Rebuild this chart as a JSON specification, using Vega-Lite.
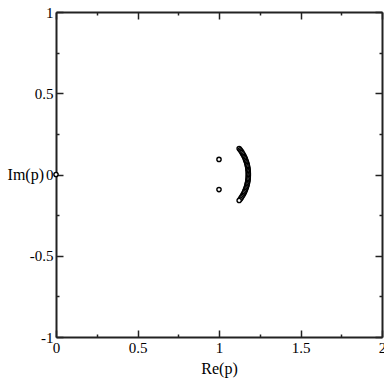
{
  "$schema": "https://vega.github.io/schema/vega-lite/v6.json",
  "width": 326,
  "height": 325,
  "autosize": {"type": "none"},
  "padding": {"left": 56, "top": 12, "right": 2, "bottom": 41},
  "background": "white",
  "config": {
    "view": {"stroke": null},
    "axis": {
      "grid": false,
      "labelFont": "Liberation Serif",
      "labelFontSize": 15,
      "labelColor": "black",
      "titleFont": "Liberation Serif",
      "titleFontSize": 16,
      "titleFontWeight": "normal",
      "titleColor": "black",
      "domainColor": "#222",
      "domainWidth": 2,
      "tickColor": "#222",
      "tickWidth": 1.5,
      "labelFlush": false,
      "labelOverlap": false
    }
  },
  "data": {
    "values": [
      {"re": 0, "im": 0},
      {"re": 1.0, "im": 0.093},
      {"re": 1.0, "im": -0.093},
      {"re": 1.1237, "im": 0.16},
      {"re": 1.1299, "im": 0.152},
      {"re": 1.1356, "im": 0.144},
      {"re": 1.1408, "im": 0.136},
      {"re": 1.1456, "im": 0.128},
      {"re": 1.1501, "im": 0.12},
      {"re": 1.1541, "im": 0.112},
      {"re": 1.1579, "im": 0.104},
      {"re": 1.1613, "im": 0.096},
      {"re": 1.1644, "im": 0.088},
      {"re": 1.1672, "im": 0.08},
      {"re": 1.1697, "im": 0.072},
      {"re": 1.1719, "im": 0.064},
      {"re": 1.1738, "im": 0.056},
      {"re": 1.1755, "im": 0.048},
      {"re": 1.1769, "im": 0.04},
      {"re": 1.178, "im": 0.032},
      {"re": 1.1789, "im": 0.024},
      {"re": 1.1795, "im": 0.016},
      {"re": 1.1799, "im": 0.008},
      {"re": 1.18, "im": 0.0},
      {"re": 1.1799, "im": -0.008},
      {"re": 1.1795, "im": -0.016},
      {"re": 1.1789, "im": -0.024},
      {"re": 1.178, "im": -0.032},
      {"re": 1.1769, "im": -0.04},
      {"re": 1.1755, "im": -0.048},
      {"re": 1.1738, "im": -0.056},
      {"re": 1.1719, "im": -0.064},
      {"re": 1.1697, "im": -0.072},
      {"re": 1.1672, "im": -0.08},
      {"re": 1.1644, "im": -0.088},
      {"re": 1.1613, "im": -0.096},
      {"re": 1.1579, "im": -0.104},
      {"re": 1.1541, "im": -0.112},
      {"re": 1.1501, "im": -0.12},
      {"re": 1.1456, "im": -0.128},
      {"re": 1.1408, "im": -0.136},
      {"re": 1.1356, "im": -0.144},
      {"re": 1.1299, "im": -0.152},
      {"re": 1.1237, "im": -0.16}
    ]
  },
  "resolve": {"axis": {"x": "independent", "y": "independent"}},
  "layer": [
    {
      "mark": {"type": "point", "opacity": 0},
      "encoding": {
        "x": {"field": "re", "type": "quantitative", "scale": {"domain": [0, 2], "nice": false, "zero": false},
          "axis": {"orient": "top", "values": [0.25, 0.75, 1.25, 1.75], "tickSize": -3, "labels": false, "domain": false, "title": null}},
        "y": {"field": "im", "type": "quantitative", "scale": {"domain": [-1, 1], "nice": false, "zero": false},
          "axis": {"orient": "right", "values": [-0.75, -0.25, 0.25, 0.75], "tickSize": -3, "labels": false, "domain": false, "title": null}}
      }
    },
    {
      "mark": {"type": "point", "opacity": 0},
      "encoding": {
        "x": {"field": "re", "type": "quantitative",
          "axis": {"orient": "top", "values": [0, 0.5, 1, 1.5, 2], "tickSize": -7, "labels": false, "domain": true, "title": null}},
        "y": {"field": "im", "type": "quantitative",
          "axis": {"orient": "right", "values": [-1, -0.5, 0, 0.5, 1], "tickSize": -7, "labels": false, "domain": true, "title": null}}
      }
    },
    {
      "mark": {"type": "point", "opacity": 0},
      "encoding": {
        "x": {"field": "re", "type": "quantitative",
          "axis": {"orient": "bottom", "values": [0.25, 0.75, 1.25, 1.75], "tickSize": -3, "labels": false, "domain": false, "title": null}},
        "y": {"field": "im", "type": "quantitative",
          "axis": {"orient": "left", "values": [-0.75, -0.25, 0.25, 0.75], "tickSize": -3, "labels": false, "domain": false, "title": null}}
      }
    },
    {
      "mark": {"type": "point", "shape": "circle", "filled": false, "fill": "white", "fillOpacity": 1, "stroke": "black", "strokeWidth": 1.4, "size": 18, "opacity": 1},
      "encoding": {
        "x": {"field": "re", "type": "quantitative",
          "axis": {"orient": "bottom", "values": [0, 0.5, 1, 1.5, 2], "tickSize": -7, "labelPadding": 10, "domain": true,
            "labelExpr": "datum.value < 0 ? '-' + format(-datum.value, '') : format(datum.value, '')",
            "title": "Re(p)", "titleBaseline": "alphabetic", "titleY": 36, "titleX": 163, "titleAlign": "center"}},
        "y": {"field": "im", "type": "quantitative",
          "axis": {"orient": "left", "values": [-1, -0.5, 0, 0.5, 1], "tickSize": -7, "labelPadding": 10, "domain": true,
            "labelExpr": "datum.value < 0 ? '-' + format(-datum.value, '') : format(datum.value, '')",
            "title": "Im(p)", "titleAngle": 0, "titleAlign": "right", "titleBaseline": "middle", "titleX": -12.5, "titleY": 162}}
      }
    }
  ]
}
